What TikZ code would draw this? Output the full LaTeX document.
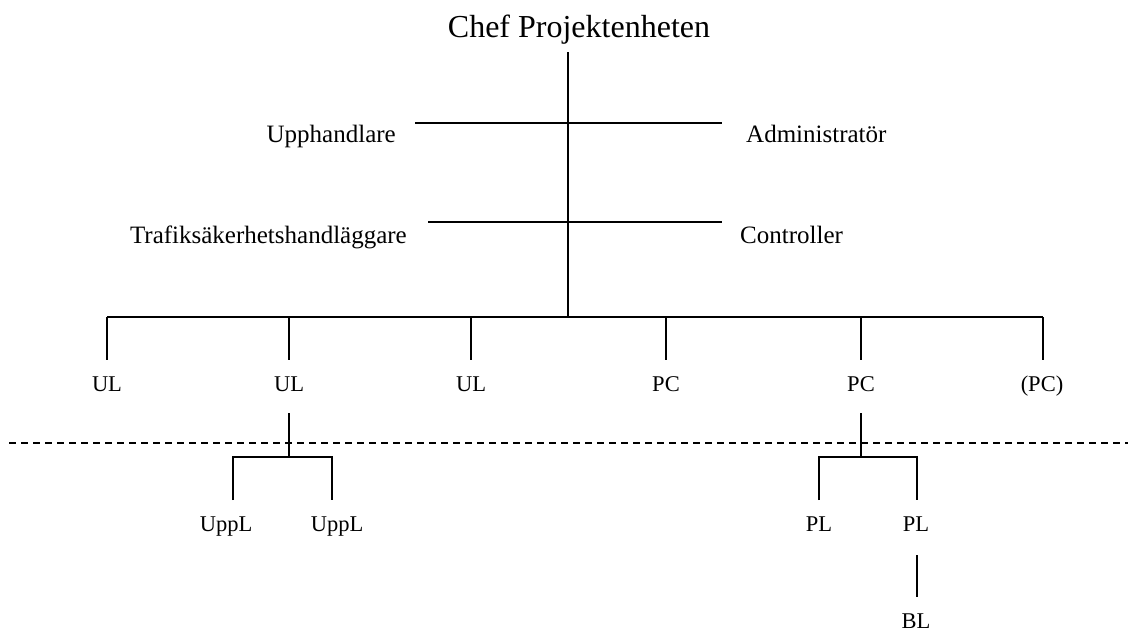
\documentclass[tikz,border=0pt]{standalone}
\usepackage{fontspec}
\setmainfont{Liberation Serif}
\tikzset{
  orgline/.style={line width=1.6pt},
  stemline/.style={line width=2.6pt},
  sepline/.style={line width=1.6pt,dash pattern=on 7pt off 5pt},
  bigtext/.style={font=\fontsize{32}{38}\selectfont,inner sep=0pt},
  midtext/.style={font=\fontsize{25}{30}\selectfont,inner sep=0pt},
  smalltext/.style={font=\fontsize{22.5}{27}\selectfont,inner sep=0pt},
}
\begin{document}
\begin{tikzpicture}[x=1pt,y=-1pt]
\useasboundingbox (0,0) rectangle (1128,627);

% head and stem
\node[bigtext,anchor=base] (chef) at (579,37) {Chef Projektenheten};
\coordinate (stemtop) at (568,52);
\coordinate (stembot) at (568,317);
\draw[stemline] (stemtop) -- (stembot);

% staff
\coordinate (staffAl) at (415,123);
\coordinate (staffAr) at (722,123);
\draw[orgline] (staffAl) -- (staffAr);
\node[midtext,anchor=base east] (upph) at (396,142) {Upphandlare};
\node[midtext,anchor=base west] (admin) at (746,142) {Administratör};

\coordinate (staffBl) at (428,222);
\coordinate (staffBr) at (722,222);
\draw[orgline] (staffBl) -- (staffBr);
\node[midtext,anchor=base east] (trafik) at (407,243) {Trafiksäkerhetshandläggare};
\node[midtext,anchor=base west] (contr) at (740,243) {Controller};

% bus
\coordinate (bus1) at (107,317);
\coordinate (bus2) at (289,317);
\coordinate (bus3) at (471,317);
\coordinate (bus4) at (666,317);
\coordinate (bus5) at (861,317);
\coordinate (bus6) at (1043,317);
\draw[orgline] (bus1) -- (bus6);
\draw[orgline] (bus1) -- ++(0,43);
\draw[orgline] (bus2) -- ++(0,43);
\draw[orgline] (bus3) -- ++(0,43);
\draw[orgline] (bus4) -- ++(0,43);
\draw[orgline] (bus5) -- ++(0,43);
\draw[orgline] (bus6) -- ++(0,43);

\node[smalltext,anchor=base] (ul1) at (107,391) {UL};
\node[smalltext,anchor=base] (ul2) at (289,391) {UL};
\node[smalltext,anchor=base] (ul3) at (471,391) {UL};
\node[smalltext,anchor=base] (pc1) at (666,391) {PC};
\node[smalltext,anchor=base] (pc2) at (861,391) {PC};
\node[smalltext,anchor=base] (pc3) at (1042,391) {(PC)};

% dashed border
\coordinate (sepl) at (9,443);
\coordinate (sepr) at (1128,443);
\draw[sepline] (sepl) -- (sepr);

% under UL
\coordinate (ulsubtop) at (289,413);
\coordinate (ulsub) at (289,457);
\draw[orgline] (ulsubtop) -- (ulsub);
\coordinate (uppAt) at (233,457);
\coordinate (uppBt) at (332,457);
\draw[orgline] ([yshift=-43pt]uppAt) -- (uppAt) -- (uppBt) -- ([yshift=-43pt]uppBt);
\node[smalltext,anchor=base] (uppl1) at (226,531) {UppL};
\node[smalltext,anchor=base] (uppl2) at (337,531) {UppL};

% under PC
\coordinate (pcsubtop) at (861,413);
\coordinate (pcsub) at (861,457);
\draw[orgline] (pcsubtop) -- (pcsub);
\coordinate (plAt) at (819,457);
\coordinate (plBt) at (917,457);
\draw[orgline] ([yshift=-43pt]plAt) -- (plAt) -- (plBt) -- ([yshift=-43pt]plBt);
\node[smalltext,anchor=base] (pl1) at (819,531) {PL};
\node[smalltext,anchor=base] (pl2) at (916,531) {PL};

\coordinate (bltop) at (917,555);
\coordinate (blbot) at (917,597);
\draw[orgline] (bltop) -- (blbot);
\node[smalltext,anchor=base] (bl) at (916,628) {BL};
\end{tikzpicture}
\end{document}
